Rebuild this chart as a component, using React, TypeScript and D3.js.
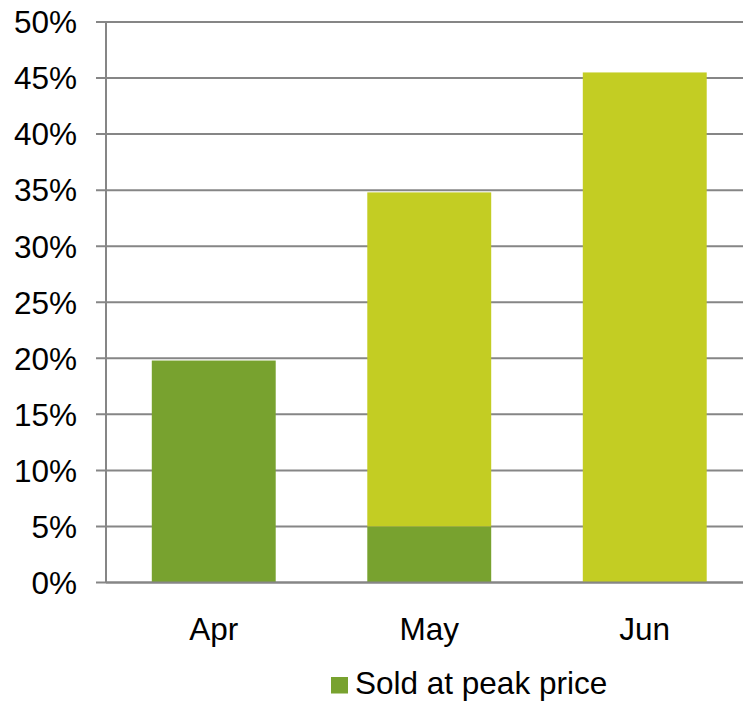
import React from "react";
import * as d3 from "d3";

const categories = ["Apr", "May", "Jun"];
const soldAtPeak = [19.8, 5.0, 0];
const otherSeries = [0, 29.8, 45.5];
const yTicks = [0, 5, 10, 15, 20, 25, 30, 35, 40, 45, 50];
const legendLabel = "Sold at peak price";

const W = 743;
const H = 704;
const FONT = "'Liberation Sans', Arial, sans-serif";
const DARK = "#78A22F";
const LIGHT = "#C3CD23";
const GRID = "#868686";
const FS = 31.5;

export default function App() {
  const left = 106;
  const step = 215.5;
  const x = d3
    .scaleBand<string>()
    .domain(categories)
    .range([left, left + step * categories.length])
    .paddingInner(0.425)
    .paddingOuter(0.2125);
  const y = d3.scaleLinear().domain([0, 50]).range([582.5, 22]);

  const stackData = categories.map((c, i) => ({ cat: c, a: soldAtPeak[i], b: otherSeries[i] }));
  const stack = d3.stack<any>().keys(["a", "b"])(stackData);
  const colors = [DARK, LIGHT];

  return (
    <svg width={W} height={H} style={{ position: "absolute", left: 0, top: 0 }}>
      <rect width={W} height={H} fill="#fff" />
      {yTicks.map((t) => (
        <g key={t}>
          <line x1={96} x2={W} y1={y(t)} y2={y(t)} stroke={GRID} strokeWidth={2} />
          <text x={77} y={y(t)} dy="0.36em" textAnchor="end" fontFamily={FONT} fontSize={FS} fill="#000">
            {t}%
          </text>
        </g>
      ))}
      <line x1={106} x2={106} y1={22} y2={583} stroke={GRID} strokeWidth={2} />
      {stack.map((layer, li) =>
        layer.map((d, i) =>
          d[1] - d[0] > 0 ? (
            <rect
              key={`${li}-${i}`}
              x={x(categories[i])}
              width={x.bandwidth()}
              y={y(d[1])}
              height={y(d[0]) - y(d[1])}
              fill={colors[li]}
            />
          ) : null
        )
      )}
      <line x1={106} x2={W} y1={y(0)} y2={y(0)} stroke={GRID} strokeWidth={2} />
      {categories.map((c) => (
        <text
          key={c}
          x={(x(c) as number) + x.bandwidth() / 2}
          y={640}
          textAnchor="middle"
          fontFamily={FONT}
          fontSize={FS}
          fill="#000"
        >
          {c}
        </text>
      ))}
      <rect x={331} y={677} width={17} height={16.5} fill={DARK} />
      <text x={355} y={694} fontFamily={FONT} fontSize={FS} fill="#000">
        {legendLabel}
      </text>
    </svg>
  );
}
